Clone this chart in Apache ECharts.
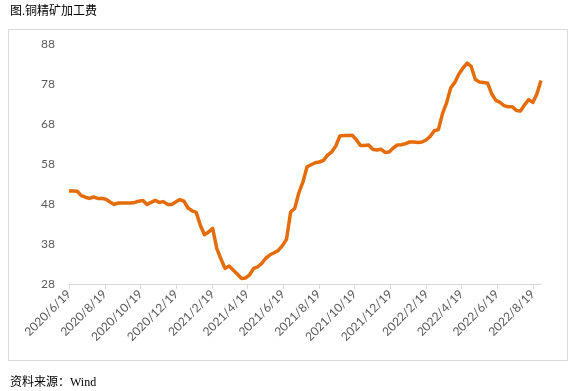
<!DOCTYPE html>
<html>
<head>
<meta charset="utf-8">
<script src="https://cdn.jsdelivr.net/npm/echarts@6/dist/echarts.min.js"></script>
<style>
html,body{margin:0;padding:0;background:#fff;}
#chart{width:573px;height:391px;}
</style>
</head>
<body>
<div id="chart"></div>
<script>
// Weekly series starting 2020-06-19
const startDate = [2020, 6, 19];
const weeklyValues = [
  51.25, 51.25, 51.2, 50.1, 49.7, 49.4, 49.75, 49.4, 49.4, 49.2,
  48.5, 47.9, 48.25, 48.25, 48.25, 48.25, 48.4, 48.7, 48.9, 47.9,
  48.4, 48.9, 48.4, 48.6, 47.9, 47.9, 48.5, 49.1, 48.7, 47.0,
  46.3, 45.9, 42.7, 40.3, 41.0, 41.9, 36.9, 34.3, 31.9, 32.5,
  31.5, 30.5, 29.4, 29.5, 30.3, 31.9, 32.3, 33.2, 34.5, 35.3,
  35.8, 36.4, 37.6, 39.2, 46.0, 46.9, 50.8, 53.5, 57.3, 57.8,
  58.3, 58.5, 58.9, 60.2, 61.0, 62.5, 65.0, 65.1, 65.1, 65.2,
  64.1, 62.6, 62.6, 62.75, 61.7, 61.5, 61.7, 60.9, 61.0, 62.0,
  62.75, 62.8, 63.1, 63.5, 63.5, 63.4, 63.5, 64.0, 64.9, 66.3,
  66.6, 70.6, 73.3, 77.0, 78.4, 80.5, 82.0, 83.2, 82.4, 79.1,
  78.5, 78.4, 78.2, 75.5, 73.9, 73.4, 72.6, 72.3, 72.3, 71.4,
  71.25, 72.8, 74.1, 73.4, 75.5, 78.9
];
const yMin = 28, yMax = 88, yStep = 10;
const titleText = '图.铜精矿加工费';
const sourceText = '资料来源：Wind';

// build daily categories so that ticks can sit on the 19th of every other month
const categories = [];
const seriesData = [];
const t0 = Date.UTC(startDate[0], startDate[1] - 1, startDate[2]);
const totalDays = (weeklyValues.length - 1) * 7;
for (let d = 0; d <= totalDays; d++) {
  const dt = new Date(t0 + d * 86400000);
  const label = dt.getUTCFullYear() + '/' + (dt.getUTCMonth() + 1) + '/' + dt.getUTCDate();
  categories.push(label);
  seriesData.push(d % 7 === 0 ? weeklyValues[d / 7] : null);
}
function isMajor(index, value) {
  const p = String(value).split('/');
  return +p[2] === 19 && (+p[1]) % 2 === 0;
}

const chart = echarts.init(document.getElementById('chart'), null, {renderer: 'canvas'});
chart.setOption({
  animation: false,
  backgroundColor: '#ffffff',
  grid: {left: 69, right: 32, top: 44, bottom: 107, containLabel: false},
  graphic: [
    {type: 'rect', shape: {x: 8.5, y: 29.5, width: 559, height: 331},
     style: {fill: 'none', stroke: '#d9d9d9', lineWidth: 1}, silent: true},
    {type: 'text', left: 10, top: 6,
     style: {text: titleText, fill: '#000', fontSize: 12,
             fontFamily: "'Liberation Serif','Noto Sans CJK SC'"}},
    {type: 'text', left: 10, top: 377,
     style: {text: sourceText, fill: '#000', fontSize: 12,
             fontFamily: "'Liberation Serif','Noto Sans CJK SC'"}}
  ],
  xAxis: {
    type: 'category',
    data: categories,
    boundaryGap: false,
    axisLine: {show: true, lineStyle: {color: '#d9d9d9', width: 1}},
    axisTick: {show: true, interval: isMajor, length: 5, lineStyle: {color: '#d9d9d9'}},
    axisLabel: {interval: isMajor, rotate: 45, color: '#595959', fontSize: 12,
                fontFamily: 'Lato', margin: 8},
    splitLine: {show: false}
  },
  yAxis: {
    type: 'value',
    min: yMin, max: yMax, interval: yStep,
    axisLine: {show: false},
    axisTick: {show: false},
    splitLine: {show: false},
    axisLabel: {color: '#595959', fontSize: 12, fontFamily: 'Lato', margin: 14}
  },
  series: [{
    type: 'line',
    data: seriesData,
    connectNulls: true,
    showSymbol: false,
    symbol: 'none',
    lineStyle: {color: '#E46C0A', width: 3.5, join: 'round'},
    itemStyle: {color: '#E46C0A'}
  }]
});
</script>
</body>
</html>
